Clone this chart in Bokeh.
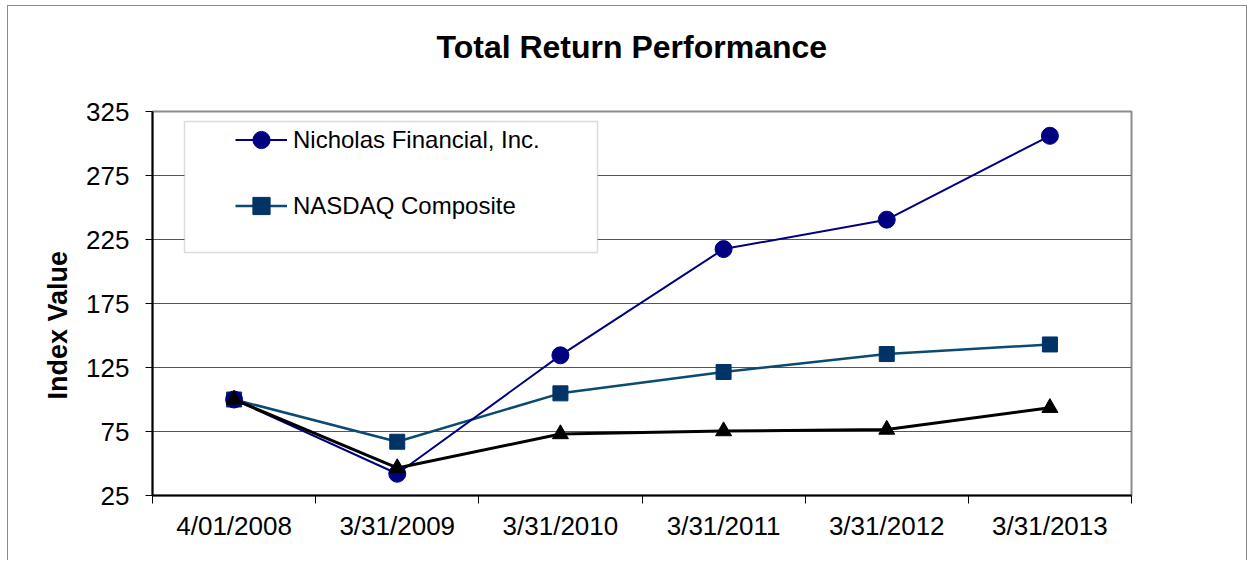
from bokeh.plotting import figure
from bokeh.models import FixedTicker, Legend, LegendItem, BoxAnnotation, Title, Range1d
from bokeh.embed import file_html
from bokeh.resources import INLINE

# ---- data ----
dates = ["4/01/2008", "3/31/2009", "3/31/2010", "3/31/2011", "3/31/2012", "3/31/2013"]
nicholas = [100, 42, 134.5, 217.5, 240.5, 306]
nasdaq = [100, 67, 104.8, 121.5, 135.5, 143]
peer_group = [100, 46.5, 73, 75.3, 76.5, 93.5]
y_ticks = [25, 75, 125, 175, 225, 275, 325]

FONT = "Liberation Sans"
xs = [i + 0.5 for i in range(len(dates))]

p = figure(width=1240, height=555, output_backend="svg", toolbar_location=None, title=None,
           x_range=Range1d(0, len(dates)), y_range=Range1d(25, 325),
           min_border_left=144, min_border_right=117, min_border_top=105, min_border_bottom=66)
p.styles = {"border-left": "1.5px solid #8c8c8c", "border-top": "1.5px solid #8c8c8c",
            "border-right": "1.5px solid #8c8c8c", "margin-left": "7px", "margin-top": "5px"}

# white spacer next to the frame, real title stacked outside it
spacer = Title(text=".", text_font_size="10px", text_color="white", standoff=37)
p.add_layout(spacer, "above")
main_title = Title(text="Total Return Performance", text_font=FONT, text_font_size="32px",
                   text_font_style="bold", text_color="black", align="left", offset=284,
                   standoff=0)
p.add_layout(main_title, "above")

p.outline_line_color = "#8c8c8c"
p.outline_line_width = 2
p.xgrid.visible = False
p.ygrid.ticker = FixedTicker(ticks=y_ticks[1:-1])
p.ygrid.grid_line_color = "#555555"
p.ygrid.grid_line_width = 1

# x axis: labels at centres, ticks at category boundaries
xa = p.xaxis[0]
xa.ticker = FixedTicker(ticks=xs, minor_ticks=list(range(len(dates) + 1)))
xa.major_label_overrides = {x: d for x, d in zip(xs, dates)}
xa.major_tick_line_color = None
xa.major_tick_out = 0
xa.major_tick_in = 0
xa.minor_tick_line_color = "black"
xa.minor_tick_out = 8
xa.minor_tick_in = 0
xa.axis_line_color = "black"
xa.axis_line_width = 2
xa.major_label_text_font = FONT
xa.major_label_text_font_size = "26px"
xa.major_label_text_color = "black"
xa.major_label_standoff = 7

ya = p.yaxis[0]
ya.ticker = FixedTicker(ticks=y_ticks, minor_ticks=[])
ya.major_tick_out = 7
ya.major_tick_in = 0
ya.major_tick_line_color = "black"
ya.axis_line_color = "black"
ya.axis_line_width = 2
ya.major_label_text_font = FONT
ya.major_label_text_font_size = "26px"
ya.major_label_text_color = "black"
ya.major_label_standoff = 16

ytitle = Title(text="Index Value", text_font=FONT, text_font_size="27px", text_color="black",
               text_font_style="bold", align="left", offset=96, standoff=22)
p.add_layout(ytitle, "left")

# series
l_nq = p.line(xs, nasdaq, line_color="#0b4a73", line_width=2.5)
s_nq = p.scatter(xs, nasdaq, marker="square", size=15, fill_color="#003366", line_color="#003366")
l_nf = p.line(xs, nicholas, line_color="#000080", line_width=2)
s_nf = p.scatter(xs, nicholas, marker="circle", size=17, fill_color="#000080", line_color="#000080")
l_pg = p.line(xs, peer_group, line_color="black", line_width=3)
s_pg = p.scatter(xs, peer_group, marker="triangle", size=16, fill_color="black", line_color="black")

# legend box
box = BoxAnnotation(left=32, right=445, top=374, bottom=243,
                    left_units="screen", right_units="screen", top_units="screen", bottom_units="screen",
                    fill_color="white", fill_alpha=1, line_color="#8c8c8c", line_width=1.5)
p.add_layout(box)

legend = Legend(items=[LegendItem(label="Nicholas Financial, Inc.", renderers=[l_nf, s_nf]),
                       LegendItem(label="NASDAQ Composite", renderers=[l_nq, s_nq])],
                location=(83, 268), padding=0, margin=0, spacing=23,
                glyph_width=52, glyph_height=43, label_height=43, label_standoff=6,
                label_text_font=FONT, label_text_font_size="24px", label_text_color="black",
                border_line_alpha=0, background_fill_alpha=0)
p.add_layout(legend)

open("out.html", "w").write(file_html(p, INLINE))
